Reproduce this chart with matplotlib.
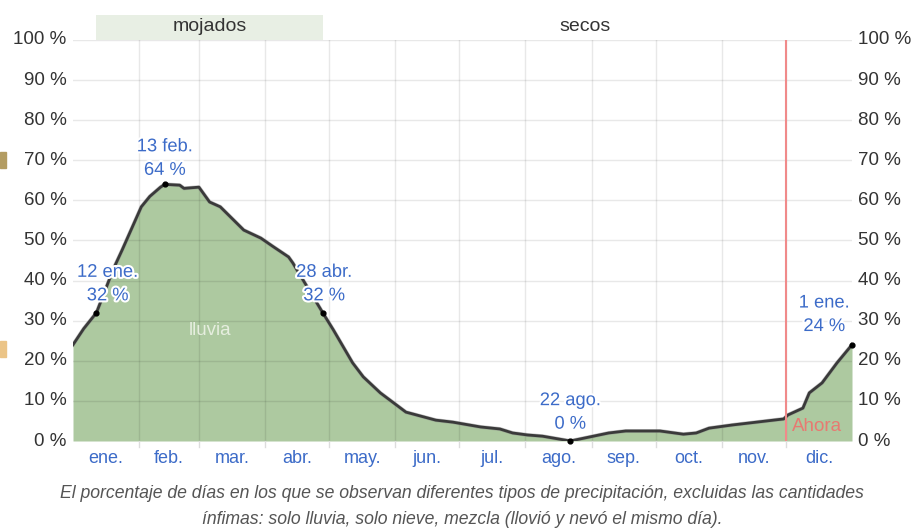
import numpy as np
import matplotlib.pyplot as plt
import matplotlib.patheffects as pe
from matplotlib.patches import Rectangle

# day of year (0 = 1 ene.) and percent of days with rain
days = [0, 5, 11, 19, 23, 32, 36, 41, 43, 50, 52, 59, 64, 69, 80, 88, 94, 101,
        103, 117, 122, 131, 136, 144, 156, 170, 178, 191, 200, 206, 213, 220,
        233, 242, 251, 259, 275, 286, 292, 298, 309, 325, 333, 335, 342, 345,
        351, 358, 365]
rain = [24, 28, 32, 43, 47.6, 58.4, 61, 63.3, 64, 63.8, 63, 63.3, 59.6, 58.4,
        52.6, 50.6, 48.4, 45.9, 44.4, 32, 27.7, 19.5, 16, 12, 7.2, 5.2, 4.7,
        3.5, 3.0, 2.0, 1.5, 1.2, 0, 1, 2, 2.5, 2.5, 1.7, 2, 3.2, 4, 5, 5.5,
        6.5, 8.2, 12, 14.5, 19.5, 24]

month_starts = [0, 31, 59, 90, 120, 151, 181, 212, 243, 273, 304, 334, 365]
month_names = ["ene.", "feb.", "mar.", "abr.", "may.", "jun.", "jul.", "ago.",
               "sep.", "oct.", "nov.", "dic."]

ann_days = [11, 43, 117, 233, 365]
ann_vals = [32, 64, 32, 0, 24]
ann_text = ["12 ene.\n32 %", "13 feb.\n64 %", "28 abr.\n32 %", "22 ago.\n0 %", "1 ene.\n24 %"]
ann_dx = [8, 0, 1, 0, -20]   # points
ann_dy = [6, 4, 6, 6, 7]     # points

wet_start, wet_end = 11, 117
now_day = 334

plt.rcParams['font.family'] = ['Liberation Sans', 'DejaVu Sans']

fig = plt.figure(figsize=(9.13, 5.29), dpi=100)
W, H = 913, 529
ax = fig.add_axes([73 / W, (H - 441) / H, (852 - 73) / W, (441 - 40) / H])

blue = '#3c6bc8'
txtc = '#333333'

ax.fill_between(days, rain, 0, color='#adc9a0', lw=0, zorder=2)
ax.plot(days, rain, color='#3a3a3a', lw=2, zorder=4,
        path_effects=[pe.Stroke(linewidth=2.8, foreground='#888888', alpha=0.5), pe.Normal()])

for y in range(10, 101, 10):
    ax.axhline(y, color='black', alpha=0.09, lw=1, zorder=3)
for d in month_starts[1:-1]:
    ax.axvline(d, color='black', alpha=0.09, lw=1, zorder=3)
    ax.plot([d, d], [0, -1.5], color='#dddddd', lw=1, clip_on=False)

ax.axvline(now_day, color='#f08a8a', lw=1.5, zorder=5)
ax.text(now_day + 3, 3.6, "Ahora", color='#e77a72', fontsize=13.5, va='center', ha='left', zorder=6)

ax.text(64, 27.5, "lluvia", color='#e6eedf', fontsize=13.5, ha='center', va='center', zorder=6)

ax.scatter(ann_days, ann_vals, s=12, color='black', zorder=7, clip_on=False)
for d, v, t, dx, dy in zip(ann_days, ann_vals, ann_text, ann_dx, ann_dy):
    ax.annotate(t, (d, v), xytext=(dx, dy), textcoords='offset points', color=blue,
                fontsize=13.2, ha='center', va='bottom', linespacing=1.5, zorder=8,
                path_effects=[pe.withStroke(linewidth=3, foreground='white')])

ax.set_xlim(0, 365)
ax.set_ylim(0, 100)
ax.set_xticks([])
ax.set_yticks([])
for s in ax.spines.values():
    s.set_visible(False)

for y in range(0, 101, 10):
    ax.text(-3, y, f"{y} %", ha='right', va='center', color=txtc, fontsize=13.5, clip_on=False)
    ax.text(368, y, f"{y} %", ha='left', va='center', color=txtc, fontsize=13.5, clip_on=False)

for i, m in enumerate(month_names):
    ax.text((month_starts[i] + month_starts[i + 1]) / 2, -4.3, m, ha='center', va='center',
            color=blue, fontsize=13, clip_on=False)

# season band above the plot
ax.add_patch(Rectangle((wet_start, 100), wet_end - wet_start, 6.2, color='#e8efe4',
                       clip_on=False, lw=0))
ax.text((wet_start + wet_end) / 2, 103.3, "mojados", ha='center', va='center', color=txtc,
        fontsize=14, clip_on=False)
ax.text(240, 103.3, "secos", ha='center', va='center', color=txtc, fontsize=14, clip_on=False)

fig.text(462 / W, 1 - 493 / H,
         "El porcentaje de días en los que se observan diferentes tipos de precipitación, excluidas las cantidades",
         ha='center', va='center', color='#555555', fontsize=12.7, style='italic')
fig.text(462 / W, 1 - 519 / H,
         "ínfimas: solo lluvia, solo nieve, mezcla (llovió y nevó el mismo día).",
         ha='center', va='center', color='#555555', fontsize=12.7, style='italic')

# small page fragments at the left edge
fig.patches.append(Rectangle((0, 1 - 168 / H), 6 / W, 16 / H, transform=fig.transFigure,
                             color='#b39c62', figure=fig))
fig.patches.append(Rectangle((0, 1 - 357 / H), 6 / W, 16 / H, transform=fig.transFigure,
                             color='#ebc487', figure=fig))

fig.savefig('out.png', dpi=100)
